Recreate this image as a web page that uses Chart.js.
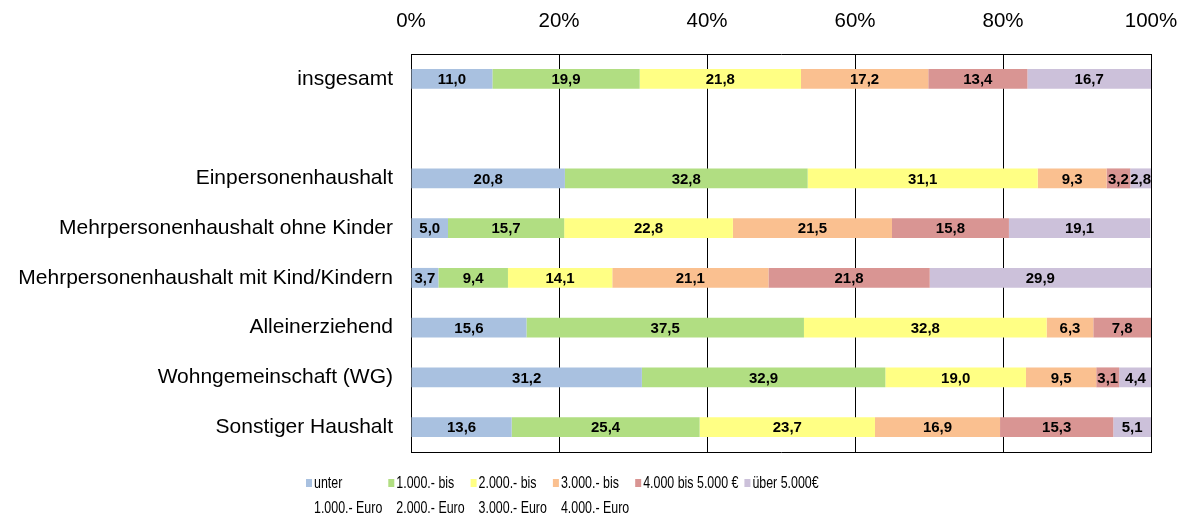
<!DOCTYPE html>
<html>
<head>
<meta charset="utf-8">
<script src="https://cdn.jsdelivr.net/npm/chart.js@4"></script>
<style>
  body { margin: 0; background: #fff; }
</style>
</head>
<body>
<canvas id="chart" width="1200" height="516"></canvas>
<script>
const categories = [
  "insgesamt",
  "",
  "Einpersonenhaushalt",
  "Mehrpersonenhaushalt ohne Kinder",
  "Mehrpersonenhaushalt mit Kind/Kindern",
  "Alleinerziehend",
  "Wohngemeinschaft (WG)",
  "Sonstiger Haushalt",
];

// Anteile in % je Einkommensklasse (leere Zeile = Abstand)
const unter1000 = [11.0, null, 20.8, 5.0, 3.7, 15.6, 31.2, 13.6];
const bis2000 = [19.9, null, 32.8, 15.7, 9.4, 37.5, 32.9, 25.4];
const bis3000 = [21.8, null, 31.1, 22.8, 14.1, 32.8, 19.0, 23.7];
const bis4000 = [17.2, null, 9.3, 21.5, 21.1, 6.3, 9.5, 16.9];
const bis5000 = [13.4, null, 3.2, 15.8, 21.8, 7.8, 3.1, 15.3];
const ueber5000 = [16.7, null, 2.8, 19.1, 29.9, null, 4.4, 5.1];

const legendLines = [
  ["unter", "1.000.- Euro"],
  ["1.000.- bis", "2.000.- Euro"],
  ["2.000.- bis", "3.000.- Euro"],
  ["3.000.- bis", "4.000.- Euro"],
  ["4.000 bis 5.000 €"],
  ["über 5.000€"],
];

const xTicks = [0, 20, 40, 60, 80, 100];

const colors = ["#A9C1E0", "#B1DE82", "#FFFF84", "#FAC090", "#D99593", "#CCC1DA"];
const seriesData = [unter1000, bis2000, bis3000, bis4000, bis5000, ueber5000];

Chart.defaults.font.family = '"Liberation Sans", Arial, sans-serif';
Chart.defaults.color = "#000";

// Werte mittig in die Balken schreiben
const barValueLabels = {
  id: "barValueLabels",
  afterDatasetsDraw(chart) {
    const ctx = chart.ctx;
    ctx.save();
    ctx.font = 'bold 15px "Liberation Sans", Arial, sans-serif';
    ctx.fillStyle = "#000";
    ctx.textAlign = "center";
    ctx.textBaseline = "middle";
    chart.data.datasets.forEach((ds, i) => {
      chart.getDatasetMeta(i).data.forEach((bar, j) => {
        const v = ds.data[j];
        if (v == null) return;
        const { x, y, base } = bar.getProps(["x", "y", "base"], true);
        ctx.fillText(v.toFixed(1).replace(".", ","), (x + base) / 2, y + 1);
      });
    });
    ctx.restore();
  },
};

// Legende unten, zweizeilige Einträge (schmal gesetzt)
const twoLineLegend = {
  id: "twoLineLegend",
  afterDraw(chart) {
    const ctx = chart.ctx;
    const sx = 0.73;
    ctx.save();
    ctx.font = '17px "Liberation Sans", Arial, sans-serif';
    ctx.textBaseline = "middle";
    ctx.textAlign = "left";
    let x = 306;
    chart.data.datasets.forEach((ds, i) => {
      ctx.fillStyle = ds.backgroundColor;
      ctx.fillRect(x, 479, 6, 8);
      ctx.fillStyle = "#000";
      let w = 0;
      legendLines[i].forEach((line, k) => {
        ctx.save();
        ctx.translate(x + 8, 483 + k * 25);
        ctx.scale(sx, 1);
        ctx.fillText(line, 0, 0);
        ctx.restore();
        w = Math.max(w, ctx.measureText(line).width * sx);
      });
      x += 8 + w + 6;
    });
    ctx.restore();
  },
};

new Chart(document.getElementById("chart"), {
  type: "bar",
  data: {
    labels: categories,
    datasets: seriesData.map((d, i) => ({
      label: legendLines[i].join(" "),
      data: d,
      backgroundColor: colors[i],
      borderWidth: 0,
      barPercentage: 0.4,
      categoryPercentage: 1.0,
    })),
  },
  options: {
    indexAxis: "y",
    responsive: false,
    animation: false,
    devicePixelRatio: 1,
    layout: { padding: { top: 0, left: 0, right: 49, bottom: 64 } },
    plugins: {
      legend: { display: false },
      tooltip: { enabled: false },
    },
    scales: {
      x: {
        position: "top",
        stacked: true,
        min: 0,
        max: 100,
        afterBuildTicks: (scale) => {
          scale.ticks = xTicks.map((v) => ({ value: v }));
        },
        ticks: {
          callback: (v) => v + "%",
          padding: 20,
          color: "#000",
          font: { size: 20.5 },
        },
        grid: { color: "#000", drawTicks: false, lineWidth: 1 },
        border: { display: true, color: "#000" },
        afterFit: (s) => {
          s.height = 54;
        },
      },
      xBottom: {
        type: "linear",
        position: "bottom",
        axis: "x",
        min: 0,
        max: 100,
        ticks: { display: false },
        grid: { display: false, drawTicks: false },
        border: { display: true, color: "#000" },
        afterFit: (s) => {
          s.height = 0;
        },
      },
      y: {
        stacked: true,
        ticks: { color: "#000", font: { size: 21 }, padding: 18 },
        grid: { display: false, drawTicks: false },
        border: { display: true, color: "#000" },
        afterFit: (s) => {
          s.width = 411;
        },
      },
    },
  },
  plugins: [barValueLabels, twoLineLegend],
});
</script>
</body>
</html>
